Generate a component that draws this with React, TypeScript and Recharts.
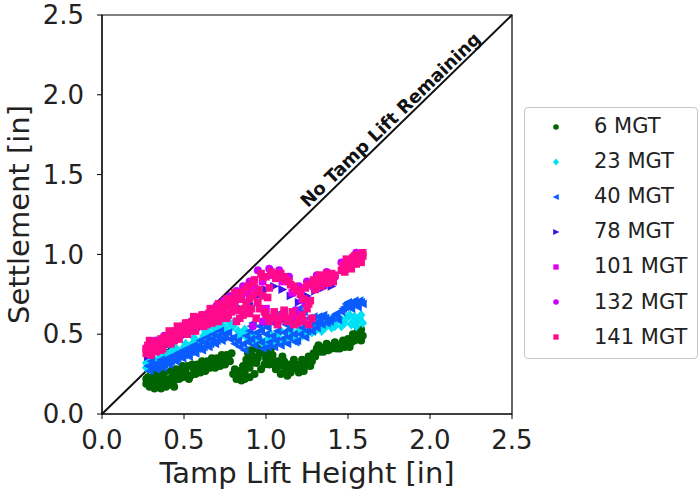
import React from 'react';
import {
  ScatterChart,
  Scatter,
  XAxis,
  YAxis,
  ReferenceLine,
  ReferenceArea,
  ReferenceDot,
} from 'recharts';

type Pt = [number, number];

const axisTicks = [0, 0.5, 1, 1.5, 2, 2.5];

const mgt6: Pt[] = [
  [0.27, 0.19], [0.28, 0.23], [0.29, 0.17], [0.3, 0.21], [0.31, 0.25], [0.33, 0.18], [0.34, 0.22],
  [0.36, 0.16], [0.37, 0.2], [0.38, 0.26], [0.4, 0.18], [0.41, 0.22], [0.43, 0.24], [0.44, 0.17],
  [0.45, 0.28], [0.47, 0.22], [0.48, 0.27], [0.5, 0.25], [0.52, 0.3], [0.54, 0.24], [0.56, 0.28],
  [0.58, 0.31], [0.6, 0.26], [0.62, 0.3], [0.64, 0.33], [0.66, 0.29], [0.68, 0.32], [0.7, 0.35],
  [0.72, 0.3], [0.74, 0.34], [0.76, 0.37], [0.78, 0.33], [0.8, 0.25], [0.82, 0.22], [0.84, 0.27],
  [0.86, 0.3], [0.88, 0.34], [0.89, 0.38], [0.9, 0.29], [0.92, 0.36], [0.93, 0.41], [0.94, 0.32],
  [0.96, 0.38], [0.97, 0.28], [0.98, 0.42], [1.0, 0.35], [1.01, 0.39], [1.02, 0.31], [1.04, 0.37],
  [1.06, 0.28], [1.07, 0.33], [1.09, 0.25], [1.1, 0.36], [1.12, 0.29], [1.14, 0.31], [1.15, 0.26],
  [1.17, 0.34], [1.19, 0.28], [1.21, 0.31], [1.23, 0.27], [1.25, 0.33], [1.27, 0.3], [1.29, 0.38],
  [1.31, 0.41], [1.33, 0.39], [1.36, 0.42], [1.38, 0.4], [1.41, 0.43], [1.43, 0.41], [1.46, 0.44],
  [1.48, 0.42], [1.5, 0.47], [1.52, 0.45], [1.53, 0.5], [1.55, 0.48], [1.56, 0.52], [1.58, 0.46],
  [1.59, 0.49], [0.27, 0.22], [0.29, 0.2], [0.3, 0.26], [0.32, 0.16], [0.32, 0.22], [0.35, 0.19],
  [0.35, 0.25], [0.38, 0.22], [0.39, 0.17], [0.42, 0.19], [0.42, 0.27], [0.44, 0.21], [0.46, 0.25],
  [0.49, 0.23], [0.49, 0.3], [0.51, 0.27], [0.53, 0.22], [0.55, 0.31], [0.57, 0.25], [0.59, 0.28],
  [0.61, 0.33], [0.63, 0.27], [0.65, 0.31], [0.67, 0.35], [0.69, 0.29], [0.71, 0.32], [0.73, 0.37],
  [0.75, 0.31], [0.77, 0.35], [0.79, 0.38], [0.81, 0.28], [0.83, 0.24], [0.85, 0.21], [0.87, 0.26],
  [0.88, 0.3], [0.91, 0.33], [0.91, 0.4], [0.95, 0.35], [0.95, 0.42], [0.99, 0.31], [0.99, 0.38],
  [1.03, 0.34], [1.03, 0.41], [1.05, 0.31], [1.08, 0.3], [1.11, 0.26], [1.11, 0.33], [1.13, 0.24],
  [1.16, 0.29], [1.18, 0.31], [1.2, 0.26], [1.22, 0.34], [1.24, 0.3], [1.26, 0.36], [1.28, 0.33],
  [1.3, 0.36], [1.32, 0.43], [1.35, 0.39], [1.37, 0.44], [1.4, 0.41], [1.42, 0.45], [1.45, 0.41],
  [1.47, 0.46], [1.49, 0.44], [1.51, 0.42], [1.54, 0.46], [1.57, 0.5], [1.58, 0.53], [0.9, 0.23],
  [0.93, 0.25], [0.87, 0.22],
];

const mgt23: Pt[] = [
  [0.27, 0.29], [0.28, 0.33], [0.3, 0.31], [0.31, 0.35], [0.33, 0.3], [0.34, 0.34], [0.36, 0.37],
  [0.38, 0.33], [0.4, 0.36], [0.42, 0.39], [0.44, 0.35], [0.46, 0.4], [0.48, 0.38], [0.5, 0.42],
  [0.52, 0.4], [0.55, 0.44], [0.57, 0.46], [0.6, 0.45], [0.62, 0.49], [0.65, 0.51], [0.67, 0.48],
  [0.7, 0.53], [0.72, 0.56], [0.75, 0.54], [0.78, 0.57], [0.8, 0.55], [0.83, 0.52], [0.86, 0.5],
  [0.89, 0.47], [0.92, 0.45], [0.95, 0.48], [0.98, 0.44], [1.01, 0.47], [1.04, 0.45], [1.07, 0.49],
  [1.1, 0.46], [1.13, 0.5], [1.16, 0.48], [1.19, 0.51], [1.22, 0.49], [1.25, 0.53], [1.28, 0.51],
  [1.31, 0.55], [1.34, 0.52], [1.37, 0.57], [1.4, 0.54], [1.43, 0.58], [1.46, 0.55], [1.49, 0.6],
  [1.52, 0.56], [1.54, 0.61], [1.56, 0.58], [1.58, 0.62], [1.59, 0.57], [0.27, 0.32], [0.29, 0.28],
  [0.32, 0.33], [0.35, 0.31], [0.37, 0.35], [0.39, 0.38], [0.41, 0.34], [0.43, 0.37], [0.45, 0.41],
  [0.47, 0.36], [0.49, 0.4], [0.51, 0.44], [0.54, 0.41], [0.56, 0.48], [0.58, 0.43], [0.61, 0.47],
  [0.63, 0.52], [0.66, 0.46], [0.68, 0.54], [0.71, 0.5], [0.73, 0.58], [0.76, 0.52], [0.79, 0.55],
  [0.81, 0.58], [0.84, 0.49], [0.87, 0.53], [0.9, 0.5], [0.93, 0.48], [0.97, 0.46], [1.0, 0.43],
  [1.03, 0.5], [1.06, 0.44], [1.09, 0.52], [1.12, 0.47], [1.15, 0.53], [1.18, 0.46], [1.21, 0.53],
  [1.24, 0.5], [1.27, 0.55], [1.3, 0.52], [1.33, 0.58], [1.36, 0.54], [1.39, 0.59], [1.42, 0.55],
  [1.45, 0.6], [1.48, 0.57], [1.51, 0.62], [1.53, 0.58], [1.55, 0.55], [1.57, 0.6],
];

const mgt40: Pt[] = [
  [0.29, 0.27], [0.31, 0.3], [0.33, 0.28], [0.35, 0.32], [0.37, 0.29], [0.39, 0.33], [0.41, 0.31],
  [0.43, 0.35], [0.45, 0.33], [0.47, 0.37], [0.49, 0.35], [0.51, 0.39], [0.53, 0.36], [0.55, 0.41],
  [0.57, 0.38], [0.59, 0.43], [0.61, 0.4], [0.63, 0.45], [0.65, 0.42], [0.67, 0.47], [0.69, 0.44],
  [0.71, 0.49], [0.73, 0.46], [0.75, 0.5], [0.78, 0.47], [0.81, 0.44], [0.84, 0.42], [0.87, 0.4],
  [0.89, 0.45], [0.9, 0.52], [0.92, 0.57], [0.93, 0.43], [0.95, 0.48], [0.96, 0.55], [0.98, 0.41],
  [1.0, 0.5], [1.02, 0.45], [1.03, 0.58], [1.05, 0.42], [1.07, 0.52], [1.08, 0.63], [1.1, 0.47],
  [1.12, 0.56], [1.13, 0.44], [1.15, 0.61], [1.17, 0.5], [1.19, 0.46], [1.2, 0.66], [1.22, 0.54],
  [1.24, 0.48], [1.26, 0.6], [1.28, 0.52], [1.3, 0.57], [1.32, 0.61], [1.34, 0.56], [1.36, 0.6],
  [1.39, 0.58], [1.42, 0.62], [1.44, 0.59], [1.47, 0.66], [1.49, 0.69], [1.51, 0.67], [1.53, 0.7],
  [1.55, 0.68], [1.57, 0.71], [1.59, 0.69], [0.28, 0.3], [0.3, 0.33], [0.32, 0.31], [0.34, 0.29],
  [0.36, 0.34], [0.38, 0.31], [0.4, 0.35], [0.42, 0.33], [0.44, 0.37], [0.46, 0.35], [0.48, 0.39],
  [0.5, 0.37], [0.52, 0.41], [0.54, 0.39], [0.56, 0.43], [0.58, 0.41], [0.6, 0.46], [0.62, 0.42],
  [0.64, 0.48], [0.66, 0.44], [0.68, 0.5], [0.7, 0.46], [0.72, 0.52], [0.74, 0.48], [0.77, 0.51],
  [0.8, 0.48], [0.83, 0.46], [0.86, 0.44], [0.88, 0.49], [0.91, 0.47], [0.91, 0.55], [0.94, 0.51],
  [0.97, 0.45], [0.97, 0.52], [0.99, 0.56], [1.01, 0.42], [1.01, 0.54], [1.04, 0.49], [1.04, 0.62],
  [1.06, 0.46], [1.06, 0.56], [1.09, 0.43], [1.09, 0.59], [1.11, 0.51], [1.11, 0.64], [1.14, 0.48],
  [1.14, 0.53], [1.16, 0.57], [1.18, 0.45], [1.18, 0.62], [1.21, 0.5], [1.21, 0.58], [1.23, 0.64],
  [1.25, 0.52], [1.27, 0.56], [1.29, 0.61], [1.31, 0.54], [1.33, 0.58], [1.35, 0.62], [1.37, 0.57],
  [1.4, 0.6], [1.43, 0.63], [1.46, 0.64], [1.48, 0.67], [1.5, 0.7], [1.52, 0.66], [1.54, 0.71],
  [1.56, 0.67], [1.58, 0.7],
];

const mgt78: Pt[] = [
  [0.28, 0.36], [0.32, 0.38], [0.36, 0.4], [0.4, 0.43], [0.45, 0.46], [0.5, 0.49], [0.55, 0.52],
  [0.6, 0.54], [0.65, 0.57], [0.7, 0.59], [0.75, 0.62], [0.8, 0.64], [0.85, 0.66], [0.9, 0.69],
  [0.95, 0.74], [1.0, 0.78], [1.05, 0.8], [1.1, 0.78], [1.15, 0.74], [1.2, 0.7], [1.25, 0.74],
  [1.3, 0.77], [1.35, 0.79], [1.4, 0.8], [1.5, 0.92], [1.56, 0.96], [1.05, 0.58], [1.15, 0.59],
];

const mgt101: Pt[] = [
  [0.28, 0.4], [0.32, 0.43], [0.35, 0.41], [0.39, 0.46], [0.43, 0.5], [0.47, 0.52], [0.51, 0.54],
  [0.56, 0.57], [0.6, 0.58], [0.65, 0.6], [0.69, 0.64], [0.73, 0.67], [0.77, 0.7], [0.81, 0.74],
  [0.85, 0.72], [0.89, 0.76], [0.93, 0.79], [0.98, 0.83], [1.04, 0.87], [1.1, 0.83], [1.16, 0.76],
  [1.22, 0.72], [1.29, 0.8], [1.35, 0.84], [1.48, 0.94], [1.54, 0.97], [1.08, 0.6], [1.17, 0.61],
  [1.0, 0.66],
];

const mgt132: Pt[] = [
  [0.27, 0.41], [0.29, 0.37], [0.31, 0.42], [0.33, 0.46], [0.36, 0.44], [0.38, 0.49], [0.41, 0.47],
  [0.44, 0.51], [0.46, 0.49], [0.49, 0.53], [0.52, 0.57], [0.55, 0.55], [0.58, 0.6], [0.61, 0.62],
  [0.64, 0.61], [0.67, 0.66], [0.7, 0.68], [0.74, 0.71], [0.78, 0.74], [0.82, 0.77], [0.86, 0.8],
  [0.9, 0.83], [0.95, 0.9], [1.02, 0.91], [1.08, 0.9], [1.14, 0.86], [1.2, 0.8], [1.25, 0.83],
  [1.31, 0.87], [1.37, 0.89], [1.42, 0.86], [1.12, 0.6], [1.18, 0.65], [1.24, 0.69], [1.46, 0.95],
  [1.49, 0.91], [1.55, 1.01], [1.58, 0.97], [0.92, 0.55], [0.98, 0.58],
];

const mgt141: Pt[] = [
  [0.27, 0.38], [0.28, 0.43], [0.3, 0.4], [0.31, 0.45], [0.33, 0.39], [0.34, 0.43], [0.36, 0.47],
  [0.37, 0.41], [0.39, 0.45], [0.4, 0.49], [0.42, 0.44], [0.43, 0.48], [0.45, 0.52], [0.47, 0.47],
  [0.48, 0.51], [0.5, 0.55], [0.52, 0.5], [0.53, 0.54], [0.55, 0.58], [0.57, 0.52], [0.58, 0.56],
  [0.6, 0.6], [0.62, 0.55], [0.63, 0.59], [0.65, 0.63], [0.67, 0.57], [0.68, 0.61], [0.7, 0.66],
  [0.72, 0.6], [0.73, 0.64], [0.75, 0.69], [0.77, 0.62], [0.78, 0.67], [0.8, 0.72], [0.82, 0.58],
  [0.83, 0.65], [0.85, 0.76], [0.86, 0.62], [0.88, 0.7], [0.89, 0.8], [0.91, 0.66], [0.92, 0.74],
  [0.93, 0.84], [0.94, 0.6], [0.95, 0.7], [0.96, 0.78], [0.97, 0.88], [0.99, 0.64], [1.0, 0.86],
  [1.01, 0.73], [1.03, 0.89], [1.04, 0.6], [1.06, 0.85], [1.07, 0.56], [1.09, 0.88], [1.1, 0.62],
  [1.12, 0.84], [1.13, 0.58], [1.15, 0.81], [1.16, 0.64], [1.18, 0.78], [1.19, 0.57], [1.21, 0.75],
  [1.22, 0.62], [1.24, 0.79], [1.25, 0.66], [1.26, 0.56], [1.27, 0.71], [1.28, 0.82], [1.3, 0.78],
  [1.32, 0.85], [1.34, 0.8], [1.36, 0.86], [1.38, 0.82], [1.4, 0.88], [1.41, 0.83], [1.47, 0.93],
  [1.48, 0.89], [1.5, 0.96], [1.52, 0.91], [1.53, 0.98], [1.55, 0.94], [1.56, 1.0], [1.58, 0.95],
  [1.59, 0.99], [0.27, 0.41], [0.29, 0.46], [0.3, 0.37], [0.32, 0.42], [0.35, 0.45], [0.36, 0.4],
  [0.38, 0.48], [0.41, 0.46], [0.41, 0.52], [0.44, 0.46], [0.46, 0.5], [0.46, 0.55], [0.49, 0.53],
  [0.51, 0.57], [0.54, 0.52], [0.56, 0.55], [0.56, 0.61], [0.59, 0.58], [0.61, 0.62], [0.64, 0.56],
  [0.66, 0.6], [0.66, 0.66], [0.69, 0.63], [0.71, 0.58], [0.71, 0.69], [0.74, 0.66], [0.76, 0.6],
  [0.76, 0.72], [0.79, 0.64], [0.81, 0.69], [0.81, 0.76], [0.84, 0.6], [0.84, 0.72], [0.87, 0.66],
  [0.87, 0.78], [0.9, 0.63], [0.9, 0.72], [0.92, 0.82], [0.94, 0.76], [0.96, 0.66], [0.98, 0.74],
  [0.98, 0.86], [1.0, 0.62], [1.02, 0.79], [1.02, 0.58], [1.05, 0.88], [1.05, 0.64], [1.08, 0.59],
  [1.08, 0.86], [1.11, 0.65], [1.11, 0.86], [1.14, 0.6], [1.14, 0.83], [1.17, 0.56], [1.17, 0.8],
  [1.2, 0.6], [1.2, 0.77], [1.23, 0.58], [1.23, 0.72], [1.25, 0.81], [1.26, 0.69], [1.28, 0.6],
  [1.29, 0.84], [1.31, 0.81], [1.33, 0.87], [1.35, 0.83], [1.37, 0.88], [1.39, 0.84], [1.42, 0.87],
  [1.46, 0.9], [1.49, 0.97], [1.51, 0.93], [1.54, 0.99], [1.57, 0.97], [1.59, 1.01],
];

const seriesNames = ['6 MGT', '23 MGT', '40 MGT', '78 MGT', '101 MGT', '132 MGT', '141 MGT'];
const seriesColors = ['#006400', '#00e1f5', '#0a5cff', '#3d10f0', '#e000f0', '#c800ff', '#ff0a8c'];
const seriesMarkers = ['circle', 'diamond', 'triLeft', 'triRight', 'square', 'circle', 'square'];
const seriesData = [mgt6, mgt23, mgt40, mgt78, mgt101, mgt132, mgt141];

const Marker = ({ cx, cy, kind, color, s }: { cx: number; cy: number; kind: string; color: string; s: number }) => {
  if (cx == null || cy == null) return null;
  switch (kind) {
    case 'diamond':
      return <polygon points={`${cx},${cy - s * 1.25} ${cx + s * 1.1},${cy} ${cx},${cy + s * 1.25} ${cx - s * 1.1},${cy}`} fill={color} />;
    case 'triLeft':
      return <polygon points={`${cx - s * 1.2},${cy} ${cx + s},${cy - s * 1.1} ${cx + s},${cy + s * 1.1}`} fill={color} />;
    case 'triRight':
      return <polygon points={`${cx + s * 1.2},${cy} ${cx - s},${cy - s * 1.1} ${cx - s},${cy + s * 1.1}`} fill={color} />;
    case 'square':
      return <rect x={cx - s * 0.95} y={cy - s * 0.95} width={s * 1.9} height={s * 1.9} fill={color} />;
    default:
      return <circle cx={cx} cy={cy} r={s} fill={color} />;
  }
};

const DiagLabel = (props: any) => {
  const vb = props.viewBox || {};
  const x = vb.x + (vb.width || 0) / 2;
  const y = vb.y + (vb.height || 0) / 2;
  return (
    <text
      x={x}
      y={y}
      transform={`rotate(-44 ${x} ${y})`}
      textAnchor="middle"
      fontSize={18}
      fontWeight="bold"
      fill="#111"
      fontFamily="DejaVu Sans"
    >
      No Tamp Lift Remaining
    </text>
  );
};

const LegendBox = () => (
  <div
    style={{
      position: 'absolute',
      left: 524,
      top: 107,
      width: 172,
      height: 250,
      border: '1px solid #c8c8c8',
      borderRadius: 4,
      background: '#fff',
      fontFamily: 'DejaVu Sans',
      fontSize: 21,
      color: '#222',
    }}
  >
    {seriesNames.map((name, i) => (
      <div
        key={name}
        style={{ position: 'absolute', left: 0, top: 1 + i * 35.1, height: 35, width: 172 }}
      >
        <svg width={20} height={20} style={{ position: 'absolute', left: 21, top: 7.5 }}>
          <Marker cx={10} cy={10} kind={seriesMarkers[i]} color={seriesColors[i]} s={2.8} />
        </svg>
        <span style={{ position: 'absolute', left: 69, top: 4, lineHeight: '26px', whiteSpace: 'nowrap' }}>
          {name}
        </span>
      </div>
    ))}
  </div>
);

const App = () => {
  return (
    <div
      style={{
        position: 'absolute',
        left: 0,
        top: 0,
        width: 699,
        height: 493,
        background: '#fff',
        fontFamily: 'DejaVu Sans',
      }}
    >
      <ScatterChart width={699} height={493} margin={{ top: 15, right: 187, bottom: 0, left: 0 }}>
        <XAxis
          type="number"
          dataKey="x"
          domain={[0, 2.5]}
          ticks={axisTicks}
          tickFormatter={(v: number) => v.toFixed(1)}
          height={79}
          tickSize={5}
          tickMargin={12}
          stroke="#000"
          tick={{ fill: '#222', fontSize: 26 }}
          allowDataOverflow
          label={{
            value: 'Tamp Lift Height [in]',
            position: 'insideBottom',
            offset: 10,
            style: { fill: '#222', fontSize: 29 },
          }}
        />
        <YAxis
          type="number"
          dataKey="y"
          domain={[0, 2.5]}
          ticks={axisTicks}
          tickFormatter={(v: number) => v.toFixed(1)}
          width={102}
          tickSize={5}
          tickMargin={13}
          stroke="#000"
          tick={{ fill: '#222', fontSize: 26 }}
          allowDataOverflow
          label={{
            value: 'Settlement [in]',
            angle: -90,
            position: 'insideLeft',
            offset: 19,
            style: { fill: '#222', fontSize: 29, textAnchor: 'middle' },
          }}
        />
        <ReferenceArea x1={0} x2={2.5} y1={0} y2={2.5} fill="none" fillOpacity={0} stroke="#000" strokeWidth={1.2} />
        {seriesData.map((pts, i) => (
          <Scatter
            key={seriesNames[i]}
            name={seriesNames[i]}
            data={pts.map(([x, y]) => ({ x, y }))}
            isAnimationActive={false}
            fill={seriesColors[i]}
            shape={(p: any) => (
              <Marker cx={p.cx} cy={p.cy} kind={seriesMarkers[i]} color={seriesColors[i]} s={4} />
            )}
          />
        ))}
        <ReferenceLine
          segment={[{ x: 0, y: 0 }, { x: 2.5, y: 2.5 }]}
          stroke="#111"
          strokeWidth={2}
          ifOverflow="visible"
        />
        <ReferenceDot x={1.785} y={1.815} r={1} fill="none" stroke="none" label={DiagLabel} />
      </ScatterChart>
      <LegendBox />
    </div>
  );
};

export default App;
